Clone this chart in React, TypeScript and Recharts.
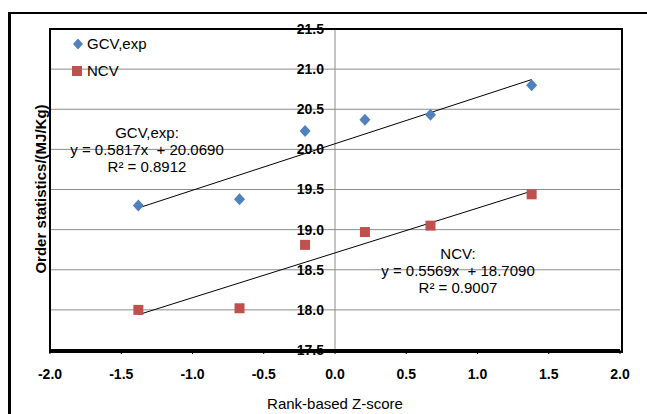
import {
  ScatterChart,
  Scatter,
  XAxis,
  YAxis,
  CartesianGrid,
  ReferenceLine,
  Legend,
} from "recharts";

const zScores = [-1.38, -0.67, -0.21, 0.21, 0.67, 1.38];
const gcvValues = [19.3, 19.38, 20.23, 20.37, 20.43, 20.8];
const ncvValues = [18.0, 18.02, 18.81, 18.97, 19.05, 19.44];

const trendX = [-1.38, 1.38];
const gcvTrendY = [19.27, 20.87];
const ncvTrendY = [17.94, 19.48];

const xTicks = [-2, -1.5, -1, -0.5, 0, 0.5, 1, 1.5, 2];
const yTicks = [17.5, 18, 18.5, 19, 19.5, 20, 20.5, 21, 21.5];

const seriesNames = ["GCV,exp", "NCV"];
const gcvNote = ["GCV,exp:", "y = 0.5817x  + 20.0690", "R² = 0.8912"];
const ncvNote = ["NCV:", "y = 0.5569x  + 18.7090", "R² = 0.9007"];

const BLUE = "#4F81BD";
const RED = "#C0504D";
const GRID = "#8c8c8c";
const FONT = "'Liberation Sans', Arial, sans-serif";

const W = 647;
const H = 414;
const yAxisWidth = 1;
const margin = { top: 29, right: 27, bottom: 0, left: 50 - yAxisWidth };
const xAxisHeight = 64;

const gcvData = zScores.map((x, i) => ({ x, y: gcvValues[i] }));
const ncvData = zScores.map((x, i) => ({ x, y: ncvValues[i] }));
const gcvTrend = trendX.map((x, i) => ({ x, y: gcvTrendY[i] }));
const ncvTrend = trendX.map((x, i) => ({ x, y: ncvTrendY[i] }));

// plot box, used for the frame and for putting y labels by the x = 0 line
const plotLeft = margin.left + yAxisWidth;
const plotRight = W - margin.right;
const plotTop = margin.top;
const plotBottom = H - xAxisHeight;
const zeroX =
  plotLeft +
  ((0 - xTicks[0]) / (xTicks[xTicks.length - 1] - xTicks[0])) * (plotRight - plotLeft);

const Diamond = (props: any) => {
  const { cx, cy } = props;
  if (cx == null || cy == null) return <g />;
  return (
    <polygon
      points={`${cx},${cy - 6} ${cx + 5.5},${cy} ${cx},${cy + 6} ${cx - 5.5},${cy}`}
      fill={BLUE}
    />
  );
};

const Square = (props: any) => {
  const { cx, cy } = props;
  if (cx == null || cy == null) return <g />;
  return <rect x={cx - 5} y={cy - 5} width={10} height={10} fill={RED} />;
};

const renderYTick = (props: any) => {
  const { y, payload } = props;
  return (
    <text
      key={`yt-${payload.value}`}
      x={zeroX - 11}
      y={y}
      dy="0.35em"
      textAnchor="end"
      fontFamily={FONT}
      fontSize={14}
      fontWeight="bold"
      fill="#000"
    >
      {Number(payload.value).toFixed(1)}
    </text>
  );
};

const LegendBox = () => (
  <div style={{ fontFamily: FONT, fontSize: 15, color: "#000" }}>
    {seriesNames.map((name, i) => (
      <div key={name} style={{ display: "flex", alignItems: "center", height: 27 }}>
        <svg width={12} height={12} style={{ marginRight: 3 }}>
          {i === 0 ? (
            <polygon points="6,0.5 11,6 6,11.5 1,6" fill={BLUE} />
          ) : (
            <rect x={0} y={1} width={10} height={10} fill={RED} />
          )}
        </svg>
        <span>{name}</span>
      </div>
    ))}
  </div>
);

const Note = ({ lines, cx, top }: { lines: string[]; cx: number; top: number }) => (
  <div
    style={{
      position: "absolute",
      left: cx - 110,
      top,
      width: 220,
      textAlign: "center",
      fontFamily: FONT,
      fontSize: 15,
      lineHeight: "17px",
      color: "#000",
    }}
  >
    {lines.map((l) => (
      <div key={l} style={{ whiteSpace: "pre" }}>
        {l}
      </div>
    ))}
  </div>
);

export default function App() {
  return (
    <div
      style={{
        position: "fixed",
        left: 0,
        top: 0,
        width: W,
        height: H,
        overflow: "hidden",
        background: "#fff",
      }}
    >
      <div
        style={{
          position: "absolute",
          left: 8,
          top: 12,
          width: 800,
          height: 600,
          borderLeft: "3px solid #000",
          borderTop: "2px solid #000",
        }}
      />
      <div style={{ position: "absolute", left: 0, top: 0 }}>
        <ScatterChart width={W} height={H} margin={margin}>
          <CartesianGrid vertical={false} stroke={GRID} strokeWidth={1} />
          <XAxis
            type="number"
            dataKey="x"
            domain={[-2, 2]}
            ticks={xTicks}
            height={xAxisHeight}
            tickFormatter={(v) => Number(v).toFixed(1)}
            axisLine={{ stroke: "#000", strokeWidth: 2 }}
            tickLine={{ stroke: "#000" }}
            tickSize={4}
            tickMargin={15}
            tick={{ fill: "#000", fontFamily: FONT, fontSize: 14, fontWeight: "bold" }}
            interval={0}
          />
          <YAxis
            type="number"
            dataKey="y"
            domain={[17.5, 21.5]}
            ticks={yTicks}
            width={yAxisWidth}
            axisLine={false}
            tickLine={false}
            tick={renderYTick}
            interval={0}
          />
          <ReferenceLine x={0} stroke={GRID} strokeWidth={1} />
          <Legend
            layout="vertical"
            align="center"
            verticalAlign="middle"
            content={<LegendBox />}
            wrapperStyle={{ position: "absolute", left: 72, top: 30, width: 110 }}
          />
          <Scatter
            name={seriesNames[0]}
            data={gcvTrend}
            line={{ stroke: "#000", strokeWidth: 1 }}
            shape={() => <g />}
            legendType="none"
            isAnimationActive={false}
          />
          <Scatter
            name={seriesNames[1]}
            data={ncvTrend}
            line={{ stroke: "#000", strokeWidth: 1 }}
            shape={() => <g />}
            legendType="none"
            isAnimationActive={false}
          />
          <Scatter name={seriesNames[0]} data={gcvData} shape={<Diamond />} isAnimationActive={false} />
          <Scatter name={seriesNames[1]} data={ncvData} shape={<Square />} isAnimationActive={false} />
        </ScatterChart>
      </div>
      <div
        style={{
          position: "absolute",
          left: plotLeft - 1,
          top: plotTop - 1,
          width: plotRight - plotLeft,
          height: plotBottom - plotTop,
          border: "2px solid #000",
          pointerEvents: "none",
        }}
      />
      <div
        style={{
          position: "absolute",
          left: 40,
          top: 189,
          transform: "translate(-50%, -50%) rotate(-90deg)",
          whiteSpace: "nowrap",
          fontFamily: FONT,
          fontSize: 15,
          fontWeight: "bold",
          color: "#000",
        }}
      >
        Order statistics/(MJ/Kg)
      </div>
      <div
        style={{
          position: "absolute",
          left: zeroX,
          top: 403,
          transform: "translate(-50%, -50%)",
          whiteSpace: "nowrap",
          fontFamily: FONT,
          fontSize: 15,
          color: "#000",
        }}
      >
        Rank-based Z-score
      </div>
      <Note lines={gcvNote} cx={147} top={124} />
      <Note lines={ncvNote} cx={458} top={245} />
    </div>
  );
}
